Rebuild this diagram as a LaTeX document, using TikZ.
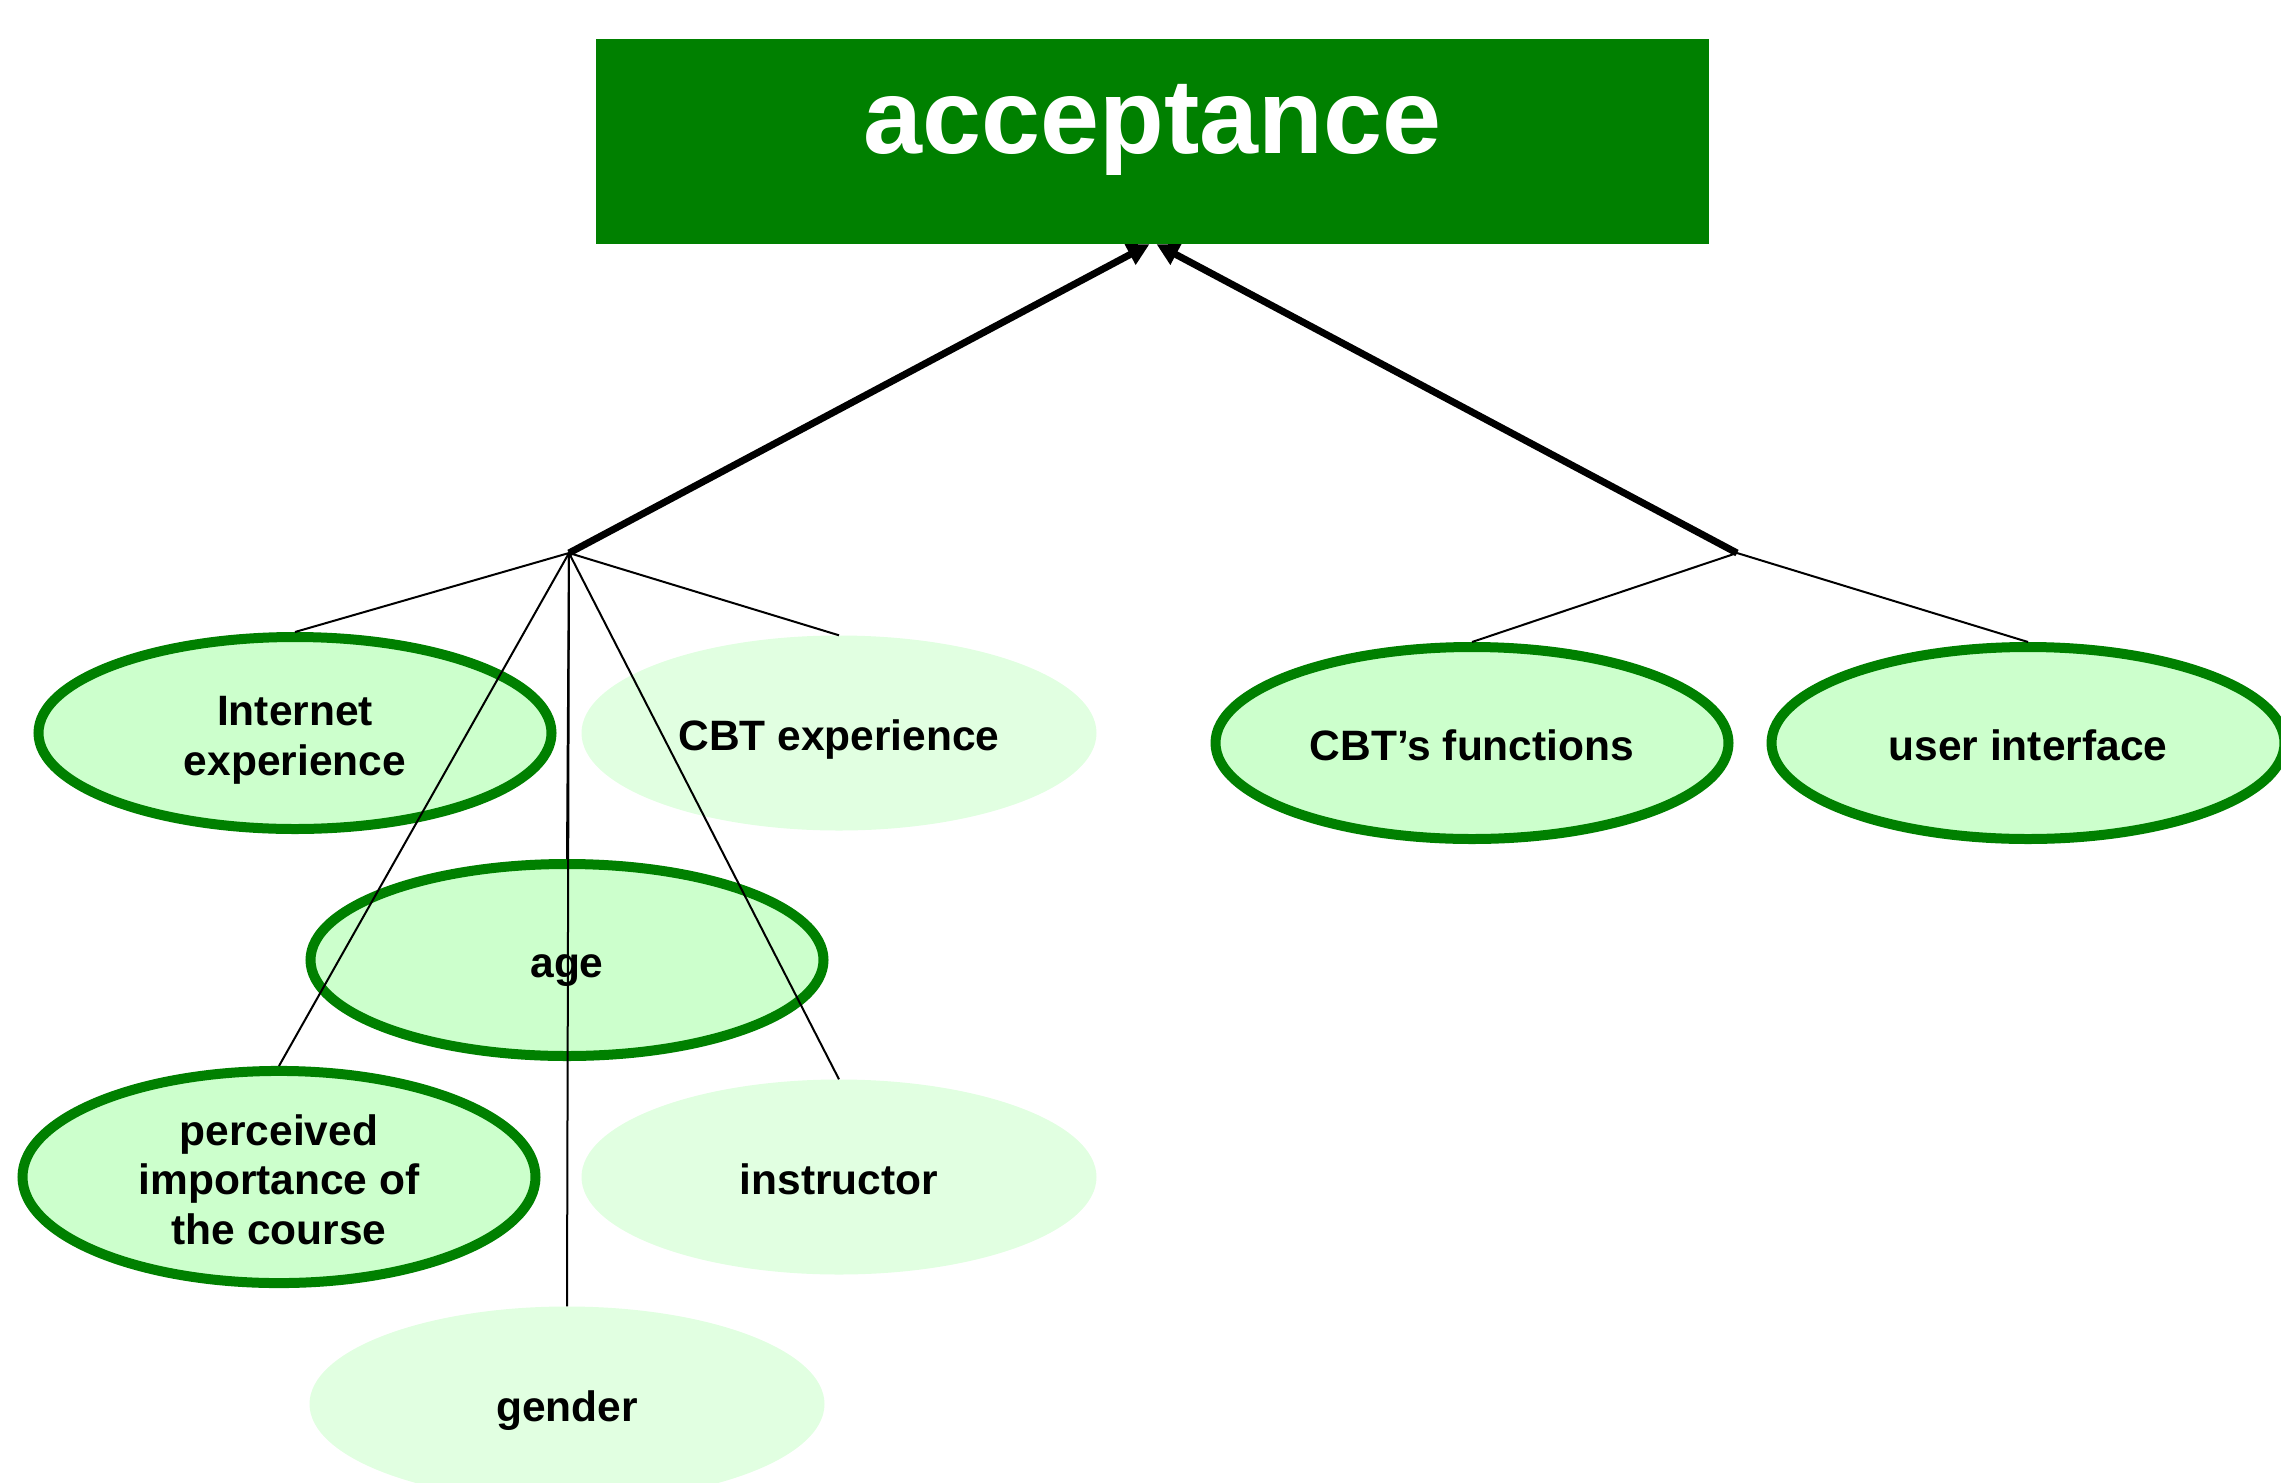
\documentclass[tikz,border=0pt]{standalone}
\usepackage{fontspec}
\setmainfont{Liberation Sans}
\usetikzlibrary{arrows.meta,shapes.geometric}
\definecolor{dkgreen}{RGB}{0,128,0}
\definecolor{fillstrong}{RGB}{204,255,204}
\definecolor{filllight}{RGB}{225,255,225}
\tikzset{
  titlebox/.style={rectangle, fill=dkgreen, inner sep=0pt, minimum width=1113pt, minimum height=205pt,
    text=white, font=\fontsize{106}{120}\selectfont\bfseries, text height=76pt, text depth=53pt},
  ellbase/.style={ellipse, inner sep=0pt, align=center,
    font=\fontsize{42.5}{49.5}\selectfont\bfseries, text depth=8pt},
  strongell/.style={ellbase, draw=dkgreen, line width=10pt, fill=fillstrong,
    minimum width=513pt, minimum height=192pt},
  lightell/.style={ellbase, fill=filllight,
    minimum width=515pt, minimum height=195pt},
  oneline/.style={text height=43pt},
  twolines/.style={text height=92.5pt},
  threelines/.style={text height=142pt},
  thinlink/.style={draw=black, line width=2pt},
  thicklink/.style={draw=black, line width=7pt, -{Triangle[length=22pt,width=22pt]}}
}
\begin{document}
\begin{tikzpicture}[x=1pt,y=-1pt]
\useasboundingbox (0,0) rectangle (2281,1483);
\clip (0,0) rectangle (2281,1483);
\node[titlebox] (title) at (1152.5,141.5) {acceptance};
\node[strongell, twolines] (inet) at (295,733) {Internet\\experience};
\node[lightell, oneline] (cbtexp) at (839,733) {CBT experience};
\node[strongell, oneline] (age) at (567,960) {age};
\node[strongell, threelines] (perc) at (279,1177) {perceived\\importance of\\the course};
\node[lightell, oneline] (instr) at (839,1177) {instructor};
\node[lightell, oneline] (gender) at (567,1404) {gender};
\node[strongell, oneline] (cbtfun) at (1472,743) {CBT’s functions};
\node[strongell, oneline] (ui) at (2028,743) {user interface};
\coordinate (j1) at (569,553);
\coordinate (j2) at (1737,553);
\draw[thinlink] (j1) -- (inet.north);
\draw[thinlink] (j1) -- (cbtexp.north);
\draw[thinlink] (j1) -- (age.north);
\draw[thinlink] (j1) -- (perc.north);
\draw[thinlink] (j1) -- (instr.north);
\draw[thinlink] (j1) -- (gender.north);
\draw[thinlink] (j2) -- (cbtfun.north);
\draw[thinlink] (j2) -- (ui.north);
\draw[thicklink] (j1) -- ([xshift=-3pt]title.south);
\draw[thicklink] (j2) -- ([xshift=4pt]title.south);
\end{tikzpicture}
\end{document}
